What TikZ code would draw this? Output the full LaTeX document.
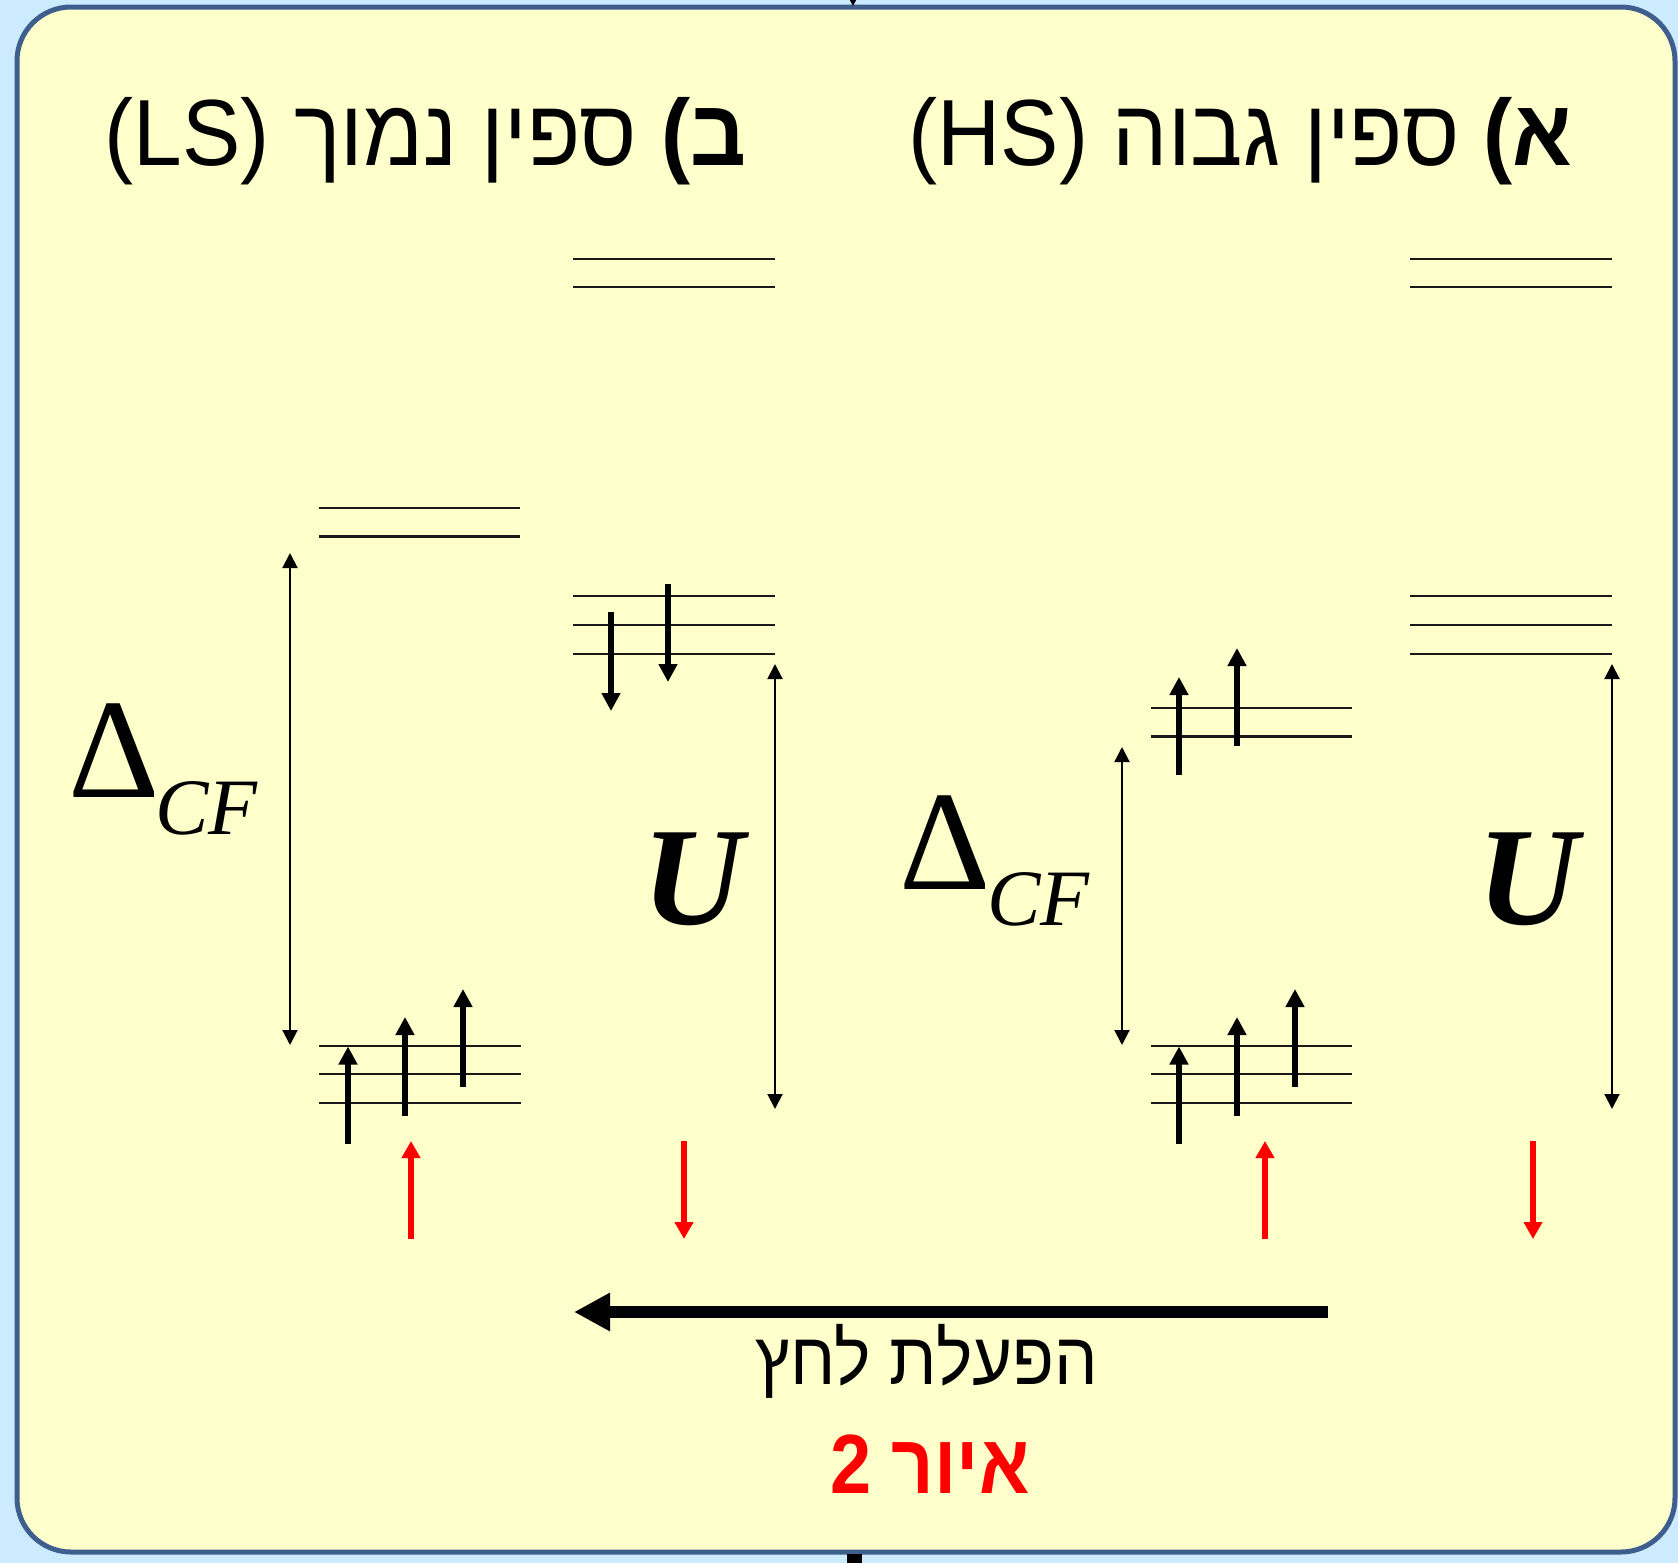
\documentclass[tikz,border=0pt]{standalone}
\usepackage{fontspec}
\setmainfont{Liberation Sans}
\newfontfamily\hebfont[Script=Hebrew,FakeStretch=0.93]{Liberation Sans}
\newfontfamily\hebnarrow[Script=Hebrew,FakeStretch=0.88]{Liberation Sans}
\newfontfamily\timesf{Liberation Serif}
\usetikzlibrary{arrows.meta}
\TeXXeTstate=1
\definecolor{bgblue}{HTML}{CCEBFF}
\definecolor{paper}{HTML}{FFFFCC}
\definecolor{framec}{HTML}{3E5F8E}
\definecolor{spinred}{HTML}{FF0000}
\tikzset{
  level/.style={line width=1.2pt, black!90},
  spin/.style={line width=3pt, -{Triangle[width=9pt,length=9pt]}},
  dbl/.style={line width=1pt, {Triangle[width=7.5pt,length=7.5pt]}-{Triangle[width=7.5pt,length=7.5pt]}},
  redarrow/.style={spinred, line width=3pt, -{Triangle[width=9pt,length=8.5pt]}},
  bigarrow/.style={line width=6pt, -{Triangle[width=18pt,length=18pt]}},
  title/.style={inner sep=0, font=\hebfont\fontsize{47pt}{54pt}\selectfont},
  deltafont/.style={inner sep=0, font=\timesf\fontsize{71pt}{80pt}\selectfont},
  subfont/.style={inner sep=0, font=\timesf\itshape\fontsize{40pt}{46pt}\selectfont},
  ufont/.style={inner sep=0, font=\timesf\bfseries\itshape\fontsize{70pt}{80pt}\selectfont},
}
\begin{document}
\begin{tikzpicture}[x=0.5pt,y=-0.5pt]
\fill[bgblue] (0,0) rectangle (1678,1563);
\useasboundingbox (0,0) rectangle (1678,1563);
% frame
\draw[framec, line width=2.5pt, fill=paper, rounded corners=27pt] (17,7) rectangle (1675,1552);
% small connectors from outside
\coordinate (topin) at (853,-2);
\coordinate (topend) at (853,6);
\draw[line width=1pt, -{Triangle[width=4pt,length=4pt]}] (topin) -- (topend);
\fill[black] (847,1554) rectangle (862,1563);

% titles
\node[title, anchor=base east] (tHS) at (1573,165) {\beginR\textbf{א)} ספין גבוה \beginL(HS)\endL\endR};
\node[title, anchor=base east] (tLS) at (747,165) {\beginR\textbf{ב)} ספין נמוך \beginL(LS)\endL\endR};

% ================= LS (left) =================
% upper levels
\draw[level] (573,258.7) -- (775,258.7);
\draw[level] (573,287) -- (775,287);
\draw[level] (573,596) -- (775,596);
\draw[level] (573,625) -- (775,625);
\draw[level] (573,654) -- (775,654);
% eg
\draw[level] (319,508) -- (520,508);
\draw[level] (319,536.5) -- (520,536.5);
% t2g
\draw[level] (319,1046) -- (521,1046);
\draw[level] (319,1074) -- (521,1074);
\draw[level] (319,1103) -- (521,1103);
% spins
\coordinate (l1a) at (348,1144); \coordinate (l1b) at (348,1046.5);
\coordinate (l2a) at (405,1116); \coordinate (l2b) at (405,1017);
\coordinate (l3a) at (463,1087); \coordinate (l3b) at (463,989);
\draw[spin] (l1a) -- (l1b);
\draw[spin] (l2a) -- (l2b);
\draw[spin] (l3a) -- (l3b);
\coordinate (l4a) at (611,612); \coordinate (l4b) at (611,711);
\coordinate (l5a) at (668,584); \coordinate (l5b) at (668,682);
\draw[spin] (l4a) -- (l4b);
\draw[spin] (l5a) -- (l5b);
% gaps
\coordinate (ldt) at (290,553); \coordinate (ldb) at (290,1045);
\draw[dbl] (ldt) -- (ldb);
\coordinate (lut) at (775,664); \coordinate (lub) at (775,1109);
\draw[dbl] (lut) -- (lub);
% red
\coordinate (lr1a) at (411,1239); \coordinate (lr1b) at (411,1141);
\coordinate (lr2a) at (684,1141); \coordinate (lr2b) at (684,1239);
\draw[redarrow] (lr1a) -- (lr1b);
\draw[redarrow] (lr2a) -- (lr2b);
% labels
\node[deltafont, anchor=base west] (dL) at (68,797) {Δ};
\node[subfont, anchor=base west] (cfL) at (155,834) {CF};
\node[ufont, anchor=base west] (uL) at (642,924) {U};

% ================= HS (right) =================
\draw[level] (1410,258.7) -- (1612,258.7);
\draw[level] (1410,287) -- (1612,287);
\draw[level] (1410,596) -- (1612,596);
\draw[level] (1410,625) -- (1612,625);
\draw[level] (1410,654) -- (1612,654);
% eg
\draw[level] (1150.5,708) -- (1352,708);
\draw[level] (1150.5,736.5) -- (1352,736.5);
% t2g
\draw[level] (1150.5,1046) -- (1352,1046);
\draw[level] (1150.5,1074) -- (1352,1074);
\draw[level] (1150.5,1103) -- (1352,1103);
% spins
\coordinate (h1a) at (1179,1144); \coordinate (h1b) at (1179,1046.5);
\coordinate (h2a) at (1237,1116); \coordinate (h2b) at (1237,1017);
\coordinate (h3a) at (1295,1087); \coordinate (h3b) at (1295,989);
\draw[spin] (h1a) -- (h1b);
\draw[spin] (h2a) -- (h2b);
\draw[spin] (h3a) -- (h3b);
\coordinate (h4a) at (1179,775); \coordinate (h4b) at (1179,677);
\coordinate (h5a) at (1237,746); \coordinate (h5b) at (1237,648);
\draw[spin] (h4a) -- (h4b);
\draw[spin] (h5a) -- (h5b);
% gaps
\coordinate (hdt) at (1122,747); \coordinate (hdb) at (1122,1045);
\draw[dbl] (hdt) -- (hdb);
\coordinate (hut) at (1612,664); \coordinate (hub) at (1612,1109);
\draw[dbl] (hut) -- (hub);
% red
\coordinate (hr1a) at (1265,1239); \coordinate (hr1b) at (1265,1141);
\coordinate (hr2a) at (1533,1141); \coordinate (hr2b) at (1533,1239);
\draw[redarrow] (hr1a) -- (hr1b);
\draw[redarrow] (hr2a) -- (hr2b);
% labels
\node[deltafont, anchor=base west] (dR) at (899,889) {Δ};
\node[subfont, anchor=base west] (cfR) at (987,925) {CF};
\node[ufont, anchor=base west] (uR) at (1477,924) {U};

% pressure arrow
\coordinate (pa) at (1328,1312);
\coordinate (pb) at (574,1312);
\draw[bigarrow] (pa) -- (pb);
\node[inner sep=0, font=\hebfont\fontsize{37pt}{42pt}\selectfont, anchor=base] (press) at (927,1384) {\beginR הפעלת לחץ\endR};
\node[inner sep=0, text=spinred, font=\hebnarrow\bfseries\fontsize{42pt}{48pt}\selectfont, anchor=base] (fig) at (930,1493) {\beginR איור 2\endR};
\end{tikzpicture}
\end{document}
